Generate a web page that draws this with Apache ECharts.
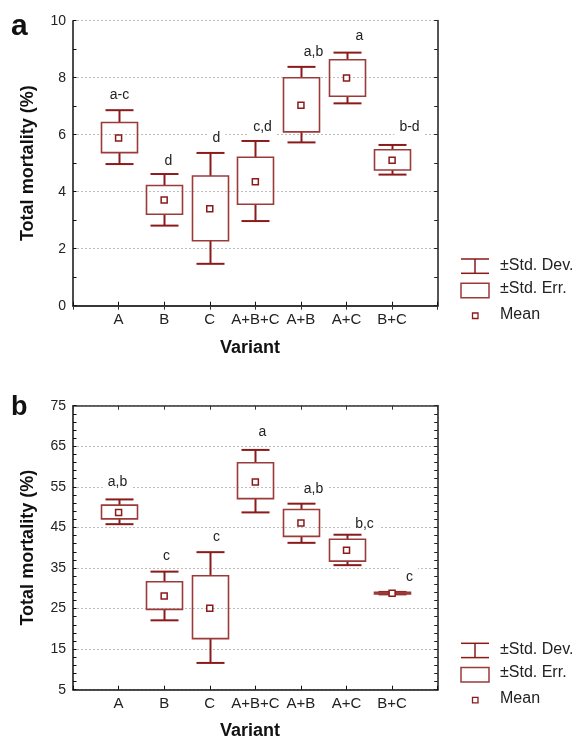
<!DOCTYPE html>
<html><head><meta charset="utf-8">
<script src="https://cdn.jsdelivr.net/npm/echarts@6/dist/echarts.min.js"></script>
<style>html,body{margin:0;padding:0;background:#fff}#c{width:572px;height:740px}</style>
</head><body><div id="c"></div>
<script>
// ---------- data ----------
const categories = ['A','B','C','A+B+C','A+B','A+C','B+C'];
// Panel a
const meanA   = [5.88, 3.71, 3.40, 4.35, 7.03, 7.99, 5.10];
const seLowA  = [5.37, 3.21, 2.28, 3.56, 6.10, 7.35, 4.76];
const seHighA = [6.43, 4.22, 4.55, 5.21, 8.00, 8.63, 5.47];
const sdLowA  = [4.97, 2.81, 1.47, 2.97, 5.73, 7.10, 4.60];
const sdHighA = [6.86, 4.62, 5.36, 5.78, 8.38, 8.88, 5.64];
const lettersA = ['a-c','d','d','c,d','a,b','a','b-d'];
// Panel b
const meanB   = [48.7, 28.1, 25.1, 56.2, 46.1, 39.4, 28.8];
const seLowB  = [47.1, 24.8, 17.6, 52.1, 42.8, 36.7, 28.6];
const seHighB = [50.5, 31.6, 33.1, 60.95, 49.4, 42.1, 29.0];
const sdLowB  = [45.8, 22.1, 11.6, 48.7, 41.2, 35.7, 28.5];
const sdHighB = [51.9, 34.1, 38.9, 64.1, 50.85, 43.2, 29.1];
const lettersB = ['a,b','c','c','a','a,b','b,c','c'];
// axis ranges / tick labels
const yRangeA = {min: 0, max: 10, interval: 2};
const yRangeB = {min: 5, max: 75, interval: 10};
const yMinorA = 1;
const yMinorB = 2;
const yTitle = 'Total mortality (%)';
const xTitle = 'Variant';
const legendLabels = ['±Std. Dev.', '±Std. Err.', 'Mean'];

// ---------- styles ----------
const WHISK = '#8b1a1a';
const BOX = '#9c3a3a';
const FONT = '"Liberation Sans", Arial, sans-serif';
// pixel offsets of significance letters relative to the top whisker (style only)
const letterShiftA = [[0,15],[4,13],[6,15],[7,14],[12,15],[12,16],[17,18]];
const letterShiftB = [[-2,17],[2,15],[6,15],[7,18],[12,15],[17,11],[17,15]];

function buildData(sdL, sdH, seL, seH, mean) {
  return categories.map((c, i) => [i + 1, sdL[i], sdH[i], seL[i], seH[i], mean[i]]);
}

function makeRender(letters, shifts) {
  return function (params, api) {
    const x = api.value(0);
    const sdL = api.coord([x, api.value(1)]);
    const sdH = api.coord([x, api.value(2)]);
    const seL = api.coord([x, api.value(3)]);
    const seH = api.coord([x, api.value(4)]);
    const m = api.coord([x, api.value(5)]);
    const cx = Math.round(sdL[0]) + 0.5;
    const capW = 28, boxW = 36, ms = 6;
    const ws = {stroke: WHISK, lineWidth: 2};
    const sh = shifts[params.dataIndex];
    return {
      type: 'group',
      children: [
        {type: 'line', shape: {x1: cx, y1: sdH[1], x2: cx, y2: seH[1]}, style: ws},
        {type: 'line', shape: {x1: cx, y1: seL[1], x2: cx, y2: sdL[1]}, style: ws},
        {type: 'line', shape: {x1: cx - capW / 2, y1: sdH[1], x2: cx + capW / 2, y2: sdH[1]}, style: ws},
        {type: 'line', shape: {x1: cx - capW / 2, y1: sdL[1], x2: cx + capW / 2, y2: sdL[1]}, style: ws},
        {type: 'rect', shape: {x: cx - boxW / 2, y: seH[1], width: boxW, height: seL[1] - seH[1]},
          style: {fill: 'none', stroke: BOX, lineWidth: 1.6}},
        {type: 'rect', shape: {x: m[0] - ms / 2, y: m[1] - ms / 2, width: ms, height: ms},
          style: {fill: '#fff', stroke: WHISK, lineWidth: 1.5}},
        {type: 'text', z2: 5,
          style: {text: letters[params.dataIndex], x: cx + sh[0], y: sdH[1] - sh[1],
            align: 'center', verticalAlign: 'middle', fill: '#222', font: '14px ' + FONT,
            backgroundColor: '#fff', padding: [2, 5]}}
      ]
    };
  };
}

function xAxes(gi) {
  const common = {type: 'value', gridIndex: gi, min: 0, max: 8, interval: 1, splitLine: {show: false}};
  return [
    Object.assign({}, common, {
      position: 'bottom',
      axisLine: {lineStyle: {color: '#111', width: 1.5}},
      axisTick: {inside: true, length: 4, lineStyle: {color: '#111'}},
      axisLabel: {margin: 7, color: '#222', fontSize: 15, fontFamily: FONT,
        formatter: v => categories[v - 1] || ''}
    }),
    Object.assign({}, common, {
      position: 'top',
      axisLine: {lineStyle: {color: '#333', width: 1.5}},
      axisTick: {inside: true, length: 4, lineStyle: {color: '#333'}},
      axisLabel: {show: false}
    })
  ];
}

function yAxes(gi, range, minor) {
  const base = {type: 'value', gridIndex: gi, min: range.min, max: range.max};
  return [
    // labelled axis with grid lines
    Object.assign({}, base, {
      interval: range.interval,
      position: 'left',
      axisLine: {show: true, lineStyle: {color: '#111', width: 1.5}},
      axisTick: {show: false},
      axisLabel: {margin: 7, color: '#222', fontSize: 14, fontFamily: FONT},
      splitLine: {show: true, lineStyle: {color: '#bdbdbd', type: [2, 2], width: 1}}
    }),
    // inner ticks on the left
    Object.assign({}, base, {
      interval: minor,
      position: 'left',
      axisLine: {show: false},
      axisTick: {show: true, inside: true, length: 3.5, lineStyle: {color: '#111'}},
      axisLabel: {show: false},
      splitLine: {show: false}
    }),
    // right frame with inner ticks
    Object.assign({}, base, {
      interval: minor,
      position: 'right',
      axisLine: {show: true, lineStyle: {color: '#555', width: 2}},
      axisTick: {show: true, inside: true, length: 3.5, lineStyle: {color: '#222'}},
      axisLabel: {show: false},
      splitLine: {show: false}
    })
  ];
}

function legendGraphics(y0) {
  const L = 461, R = 489, C = 475;
  const txt = (t, y) => ({type: 'text', left: 500, top: y - 9.5,
    style: {text: t, fill: '#222', font: '16px ' + FONT}});
  return [
    {type: 'line', shape: {x1: L, y1: y0, x2: R, y2: y0}, style: {stroke: WHISK, lineWidth: 1.5}},
    {type: 'line', shape: {x1: L, y1: y0 + 14.3, x2: R, y2: y0 + 14.3}, style: {stroke: WHISK, lineWidth: 1.5}},
    {type: 'line', shape: {x1: C, y1: y0, x2: C, y2: y0 + 14.3}, style: {stroke: WHISK, lineWidth: 1.5}},
    txt(legendLabels[0], y0 + 7.7),
    {type: 'rect', shape: {x: L, y: y0 + 24.3, width: R - L, height: 14.4}, style: {fill: 'none', stroke: BOX, lineWidth: 1.5}},
    txt(legendLabels[1], y0 + 31),
    {type: 'rect', shape: {x: C - 2.5, y: y0 + 54, width: 5.5, height: 5.5}, style: {fill: '#fff', stroke: WHISK, lineWidth: 1.3}},
    txt(legendLabels[2], y0 + 57)
  ];
}

function titleGraphics(plotTop, plotBottom, xTitleY, panel, panelY, panelSize) {
  return [
    {type: 'text', left: 11, top: panelY, style: {text: panel, fill: '#111', font: 'bold ' + panelSize + 'px ' + FONT}},
    {type: 'text', x: 28, y: (plotTop + plotBottom) / 2, rotation: Math.PI / 2,
      style: {text: yTitle, fill: '#111', font: 'bold 18px ' + FONT, align: 'center', verticalAlign: 'middle'}},
    {type: 'text', x: 250, y: xTitleY,
      style: {text: xTitle, fill: '#111', font: 'bold 18px ' + FONT, align: 'center', verticalAlign: 'middle'}}
  ];
}

const chart = echarts.init(document.getElementById('c'), null, {renderer: 'canvas'});
chart.setOption({
  animation: false,
  backgroundColor: '#fff',
  grid: [
    {left: 73, top: 20.7, width: 364.7, height: 285},
    {left: 73, top: 405.7, width: 364.7, height: 284}
  ],
  xAxis: xAxes(0).concat(xAxes(1)),
  yAxis: yAxes(0, yRangeA, yMinorA).concat(yAxes(1, yRangeB, yMinorB)),
  series: [
    {type: 'custom', xAxisIndex: 0, yAxisIndex: 0, clip: false,
      renderItem: makeRender(lettersA, letterShiftA),
      data: buildData(sdLowA, sdHighA, seLowA, seHighA, meanA), z: 3},
    {type: 'custom', xAxisIndex: 2, yAxisIndex: 3, clip: false,
      renderItem: makeRender(lettersB, letterShiftB),
      data: buildData(sdLowB, sdHighB, seLowB, seHighB, meanB), z: 3}
  ],
  graphic: [].concat(
    legendGraphics(259),
    legendGraphics(643.3),
    titleGraphics(20.7, 305.7, 348, 'a', 12, 30),
    titleGraphics(405.7, 689.7, 731.5, 'b', 394, 27)
  )
});
</script>
</body></html>
